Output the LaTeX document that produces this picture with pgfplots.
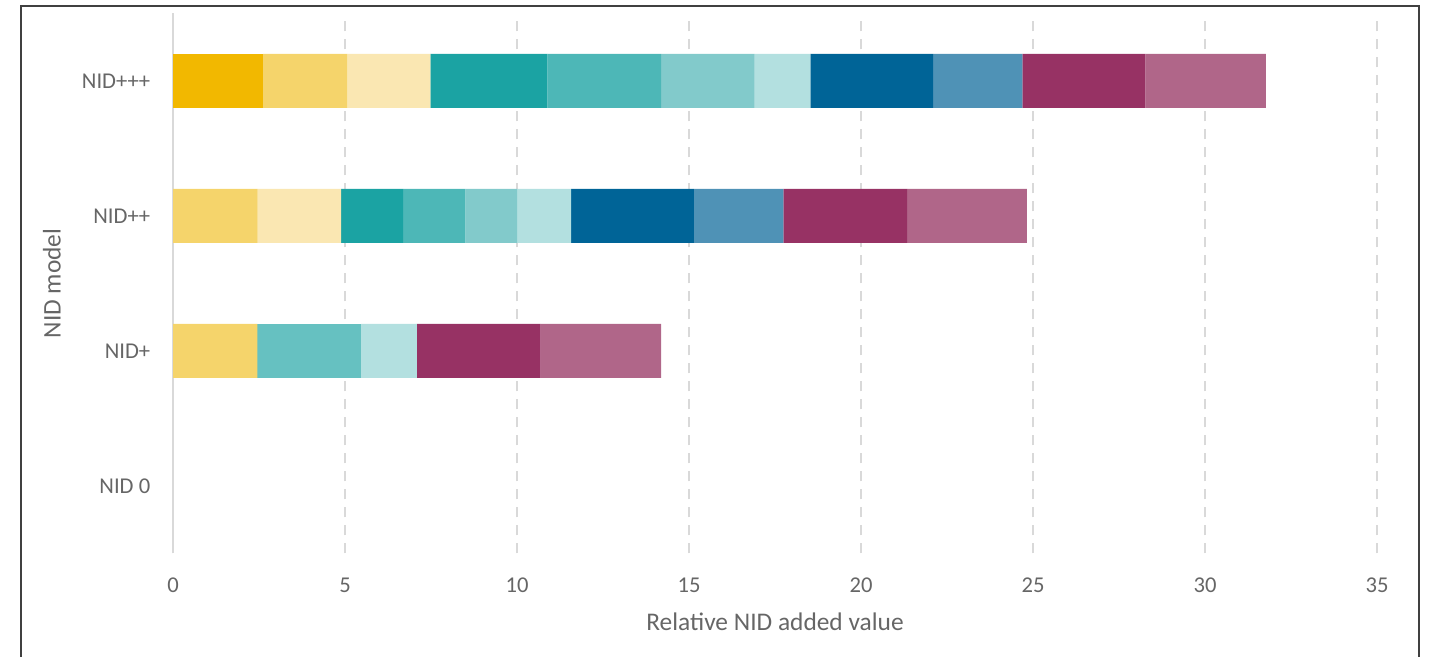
\documentclass[border=0pt]{standalone}
\usepackage{fontspec}
\setmainfont{Carlito}
\usepackage{pgfplots}
\pgfplotsset{compat=1.18}
\usepackage{pgfplotstable}

\definecolor{txt}{HTML}{666666}
\definecolor{gridc}{HTML}{D9D9D9}
\definecolor{frame}{HTML}{404040}
\definecolor{yA}{HTML}{F2B800}
\definecolor{yB}{HTML}{F5D46B}
\definecolor{yC}{HTML}{FAE7B2}
\definecolor{tA}{HTML}{1BA3A3}
\definecolor{tB}{HTML}{4DB7B7}
\definecolor{tX}{HTML}{66C1C1}
\definecolor{tC}{HTML}{82CACB}
\definecolor{tD}{HTML}{B3E0E0}
\definecolor{bA}{HTML}{006497}
\definecolor{bB}{HTML}{4F92B6}
\definecolor{mA}{HTML}{973264}
\definecolor{mB}{HTML}{B06689}

% Contributions per NID model (row 0 = NID 0, ..., row 3 = NID+++)
\pgfplotstableread{
y  yA    yB    yC    tA    tB    tX    tC    tD    bA    bB    mA    mB
0  0     0     0     0     0     0     0     0     0     0     0     0
1  0     2.45  0     0     0     3.02  0     1.62  0     0     3.60  3.50
2  0     2.46  2.43  1.80  1.81  0     1.50  1.57  3.57  2.60  3.60  3.48
3  2.61  2.46  2.41  3.40  3.31  0     2.72  1.62  3.57  2.59  3.58  3.50
}\nid

\begin{document}
\begin{tikzpicture}
\useasboundingbox (0,0) rectangle (714.5pt,328.5pt);
\draw[frame, line width=0.7pt] (10.5pt,-10pt) rectangle (709.5pt,325.5pt);
\begin{axis}[
  at={(86.5pt,51.75pt)}, anchor=south west,
  scale only axis, width=602pt, height=270pt,
  xbar stacked, bar width=0.4,
  xmin=0, xmax=35, ymin=-0.5, ymax=3.5,
  xtick={0,5,...,35},
  ytick={0,1,2,3},
  yticklabels={NID 0, NID+, NID++, NID+++},
  axis line style={draw=none},
  tick style={draw=none},
  xmajorgrids,
  major grid style={gridc, line width=0.9pt, dash pattern=on 5pt off 4pt},
  extra x ticks={0},
  extra x tick labels={},
  extra x tick style={major grid style={gridc, line width=0.9pt, solid}},
  tick label style={font=\fontsize{11.3}{13}\selectfont, text=txt},
  /pgf/number format/assume math mode=true,
  xticklabel style={anchor=center, yshift=-15.75pt},
  yticklabel style={anchor=east, inner sep=0pt, xshift=-11.2pt},
  label style={font=\fontsize{12.7}{15}\selectfont, text=txt},
  xlabel={Relative NID added value},
  xlabel style={at={(axis description cs:0.5,-0.1269)}, anchor=center},
  ylabel={NID model},
  ylabel style={at={(axis description cs:-0.1005,0.5)}, anchor=center},
  every axis plot/.append style={draw=none},
]
\addplot[fill=yA] table[x=yA, y=y] {\nid};
\addplot[fill=yB] table[x=yB, y=y] {\nid};
\addplot[fill=yC] table[x=yC, y=y] {\nid};
\addplot[fill=tA] table[x=tA, y=y] {\nid};
\addplot[fill=tB] table[x=tB, y=y] {\nid};
\addplot[fill=tX] table[x=tX, y=y] {\nid};
\addplot[fill=tC] table[x=tC, y=y] {\nid};
\addplot[fill=tD] table[x=tD, y=y] {\nid};
\addplot[fill=bA] table[x=bA, y=y] {\nid};
\addplot[fill=bB] table[x=bB, y=y] {\nid};
\addplot[fill=mA] table[x=mA, y=y] {\nid};
\addplot[fill=mB] table[x=mB, y=y] {\nid};
\end{axis}
\end{tikzpicture}
\end{document}
